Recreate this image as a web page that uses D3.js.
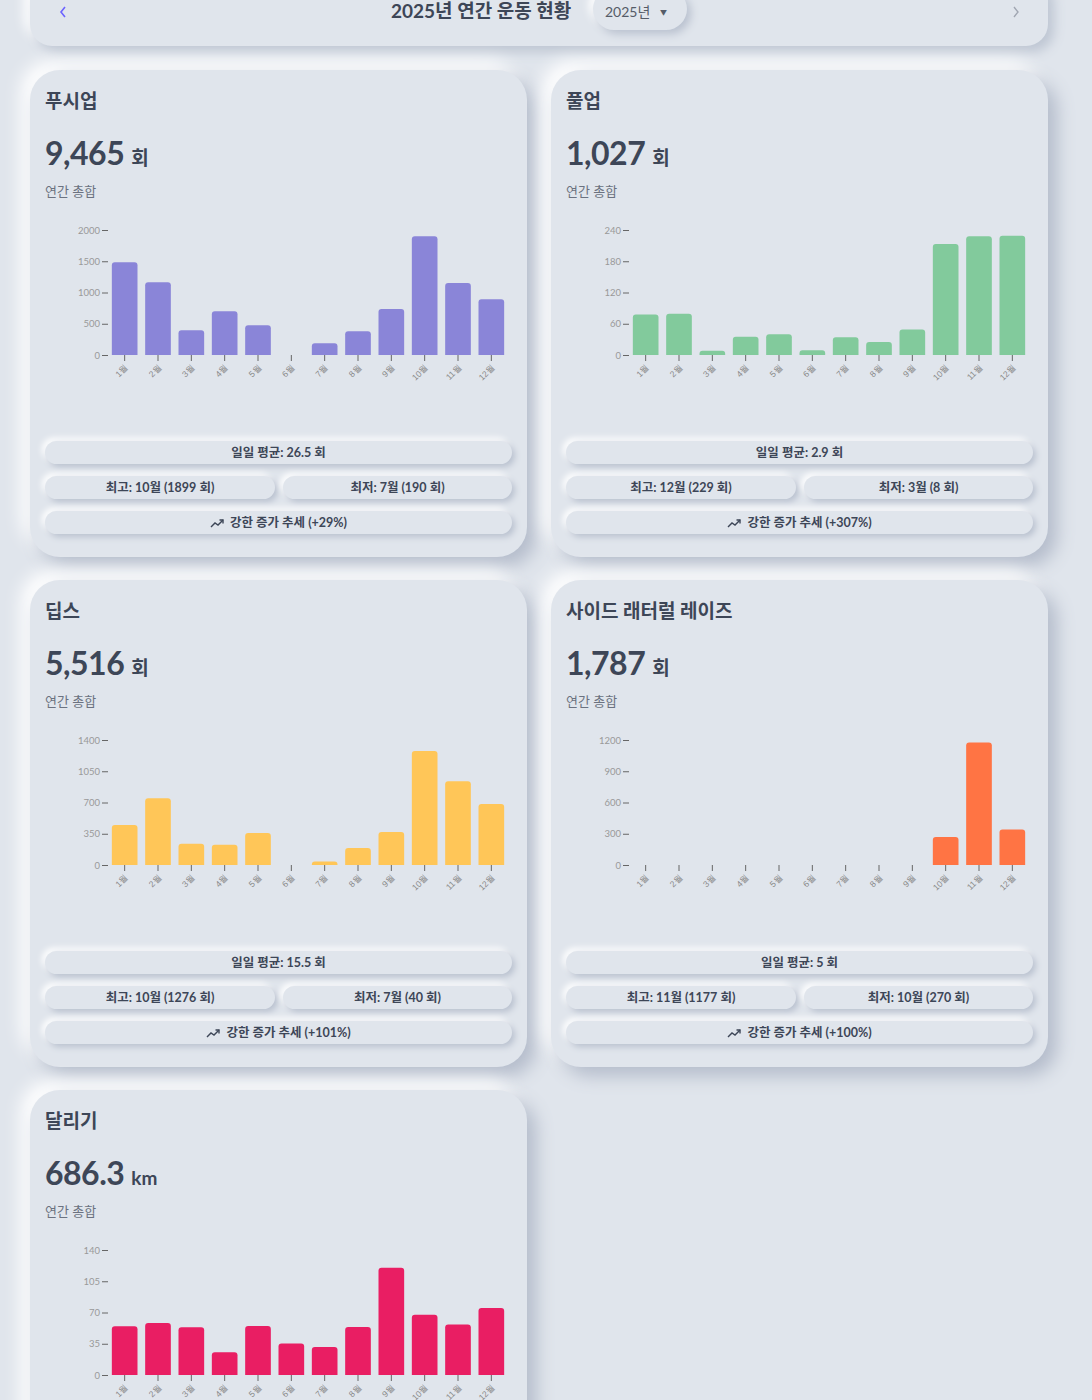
<!DOCTYPE html>
<html lang="ko">
<head>
<meta charset="utf-8">
<script src="https://cdn.jsdelivr.net/npm/d3@7"></script>
<style>
  body { margin: 0; background: #e0e5ec; font-family: "Lato", "Noto Sans CJK KR", sans-serif; color: #3d4657; }
  #page { position: relative; width: 1092px; height: 1400px; overflow: hidden; }
  .card { position: absolute; width: 497px; height: 487px; border-radius: 30px; background: #e0e5ec;
          box-shadow: 9px 9px 18px #b4bccb, -9px -9px 18px #ffffff; }
  .pill { position: absolute; height: 23px; line-height: 23px; border-radius: 12px; background: #e0e5ec;
          box-shadow: 3px 3px 6px #b9c1cf, -3px -3px 6px #ffffff; text-align: center;
          font-size: 12.5px; font-weight: 700; color: #3d4657; }
</style>
</head>
<body>
<div id="page"></div>
<script>
// data
const months = ["1월", "2월", "3월", "4월", "5월", "6월", "7월", "8월", "9월", "10월", "11월", "12월"];
const exercises = ["푸시업", "풀업", "딥스", "사이드 래터럴 레이즈", "달리기"];
const units = ["회", "회", "회", "회", "km"];
const colors = ["#8a85d8", "#82ca9c", "#ffc658", "#ff7444", "#e91e63"];

const pushups = [1483, 1163, 395, 699, 475, 0, 190, 379, 736, 1899, 1152, 894];
const pullups = [78, 79, 8, 35, 40, 9, 34, 25, 49, 213, 228, 229];
const dips = [448, 747, 239, 228, 358, 0, 40, 190, 370, 1276, 937, 683];
const lateralRaises = [0, 0, 0, 0, 0, 0, 0, 0, 0, 270, 1177, 340];
const running = [54.5, 58.2, 53.4, 25.6, 54.8, 35.2, 31.5, 53.7, 120.1, 67.5, 56.7, 75.1];
const series = [pushups, pullups, dips, lateralRaises, running];

const yTicks = [
    [0, 500, 1000, 1500, 2000],
    [0, 60, 120, 180, 240],
    [0, 350, 700, 1050, 1400],
    [0, 300, 600, 900, 1200],
    [0, 35, 70, 105, 140]
];
const dailyAvg = ["26.5", "2.9", "15.5", "5", "1.9"];
const trends = ["+29%", "+307%", "+101%", "+100%", "+38%"];

const page = d3.select("#page");

// header bar
let header = page.append("div")
    .style("position", "absolute")
    .style("left", "30px")
    .style("top", "-24px")
    .style("width", "1018px")
    .style("height", "70px")
    .style("border-radius", "22px")
    .style("background", "#e0e5ec")
    .style("box-shadow", "6px 6px 12px #bec6d3, -6px -6px 12px #ffffff");

// nav arrows
header.append("svg")
    .attr("width", 10).attr("height", 14)
    .style("position", "absolute").style("left", "28px").style("top", "29px")
    .append("polyline")
    .attr("points", "7,2 3,7 7,12")
    .attr("fill", "none").attr("stroke", "#6c63ff").attr("stroke-width", 1.6);
header.append("svg")
    .attr("width", 10).attr("height", 14)
    .style("position", "absolute").style("left", "981px").style("top", "29px")
    .append("polyline")
    .attr("points", "3,2 7,7 3,12")
    .attr("fill", "none").attr("stroke", "#a0a6b1").attr("stroke-width", 1.4);

header.append("div")
    .style("position", "absolute").style("left", "361px").style("top", "24px")
    .style("line-height", "22px")
    .style("font-size", "19px").style("font-weight", "700").style("color", "#3d4657")
    .style("white-space", "nowrap")
    .text("2025년 연간 운동 현황");

let dropdown = header.append("div")
    .style("position", "absolute").style("left", "563px").style("top", "12px")
    .style("width", "94px").style("height", "42px").style("border-radius", "21px")
    .style("background", "#e0e5ec")
    .style("box-shadow", "4px 4px 8px #b9c1cf, -4px -4px 8px #ffffff");
dropdown.append("div")
    .style("position", "absolute").style("left", "12px").style("top", "15px")
    .style("line-height", "18px")
    .style("font-size", "14px").style("color", "#555c68").style("white-space", "nowrap")
    .html("2025년 <span style='font-size:7px;margin-left:6px;position:relative;top:-2px'>▼</span>");

// card positions
const cardX = [30, 551, 30, 551, 30];
const cardY = [70, 70, 580, 580, 1090];

exercises.forEach(function (name, i) {
    let data = series[i];
    let card = page.append("div")
        .attr("class", "card")
        .style("left", cardX[i] + "px")
        .style("top", cardY[i] + "px");

    let svg = card.append("svg")
        .attr("width", 497)
        .attr("height", 400)
        .style("position", "absolute")
        .style("left", 0)
        .style("top", 0);

    svg.append("text")
        .attr("x", 15).attr("y", 38)
        .attr("font-size", "19px").attr("font-weight", 700).attr("fill", "#3d4657")
        .text(name);

    let total = d3.sum(data);
    let fmt = units[i] === "km" ? d3.format(",.1f") : d3.format(",");
    let big = svg.append("text")
        .attr("x", 15).attr("y", 95)
        .attr("fill", "#3d4657").attr("font-weight", 700);
    big.append("tspan").attr("font-size", "32px").attr("letter-spacing", "-0.5px").text(fmt(total));
    big.append("tspan").attr("dx", 7).attr("font-size", "19px").text(units[i]);

    svg.append("text")
        .attr("x", 15).attr("y", 126)
        .attr("font-size", "13px").attr("fill", "#6b7280")
        .text("연간 총합");

    //scale function
    let xScale = d3.scaleBand()
        .domain(months)
        .range([78, 478])
        .paddingInner(0.23)
        .paddingOuter(0.115);

    let yScale = d3.scaleLinear()
        .domain([0, d3.max(yTicks[i])])
        .range([285, 160]);

    // bars with rounded tops
    let r = 3;
    svg.append("g")
        .selectAll("path")
        .data(data.map((v, k) => [months[k], v]).filter(d => d[1] > 0))
        .join("path")
        .attr("fill", colors[i])
        .attr("d", function (d) {
            let x0 = xScale(d[0]), x1 = x0 + xScale.bandwidth();
            let y0 = yScale(0), y1 = yScale(d[1]);
            let rr = Math.min(r, (y0 - y1));
            return `M${x0},${y0}V${y1 + rr}Q${x0},${y1} ${x0 + rr},${y1}H${x1 - rr}Q${x1},${y1} ${x1},${y1 + rr}V${y0}Z`;
        });

    //y axis
    let yAxis = d3.axisLeft(yScale)
        .tickValues(yTicks[i])
        .tickFormat(d3.format("d"))
        .tickSize(6)
        .tickPadding(2);
    let gy = svg.append("g")
        .attr("transform", "translate(78,0)")
        .call(yAxis);
    gy.select(".domain").remove();
    gy.selectAll("line").attr("stroke", "#666");
    gy.selectAll("text").attr("fill", "#999").attr("font-size", "9.5px").attr("font-family", "Lato");

    //x axis
    let xAxis = d3.axisBottom(xScale).tickSize(6).tickPadding(3);
    let gx = svg.append("g")
        .attr("transform", "translate(0,285)")
        .call(xAxis);
    gx.select(".domain").remove();
    gx.selectAll("line").attr("stroke", "#666");
    gx.selectAll("text")
        .attr("fill", "#888")
        .attr("font-size", "8.5px")
        .attr("text-anchor", "end")
        .attr("dy", null)
        .attr("y", 0)
        .attr("transform", "translate(4,13) rotate(-45)");

    // summary pills
    let maxV = d3.max(data), minV = d3.min(data.filter(v => v > 0));
    let maxM = months[data.indexOf(maxV)], minM = months[data.indexOf(minV)];
    let pills = [
        { x: 15, y: 371, w: 467, t: `일일 평균: ${dailyAvg[i]} ${units[i]}` },
        { x: 15, y: 406, w: 230, t: `최고: ${maxM} (${maxV} ${units[i]})` },
        { x: 253, y: 406, w: 229, t: `최저: ${minM} (${minV} ${units[i]})` },
        { x: 15, y: 441, w: 467, t: `강한 증가 추세 (${trends[i]})`, icon: true }
    ];
    pills.forEach(function (p) {
        let div = card.append("div")
            .attr("class", "pill")
            .style("left", p.x + "px")
            .style("top", p.y + "px")
            .style("width", p.w + "px");
        if (p.icon) {
            div.html(`<svg width="15" height="10" style="margin-right:5px;vertical-align:-1px" viewBox="0 0 15 10">
                <polyline points="1,9 5,5 8,7 13,2" fill="none" stroke="#3d4657" stroke-width="1.4"/>
                <polyline points="9.5,2 13,2 13,5.5" fill="none" stroke="#3d4657" stroke-width="1.4"/></svg>`);
            div.append("span").text(p.t);
        } else {
            div.text(p.t);
        }
    });
});
</script>
</body>
</html>
